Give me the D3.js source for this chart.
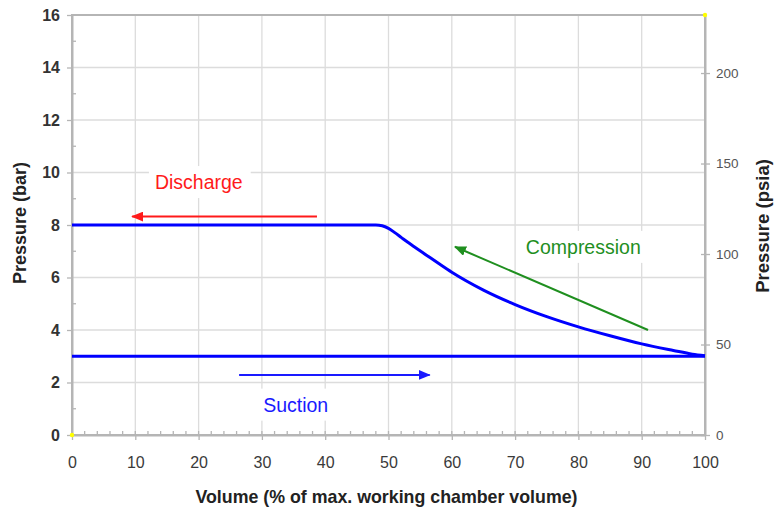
<!DOCTYPE html>
<html>
<head>
<meta charset="utf-8">
<script src="https://cdn.jsdelivr.net/npm/d3@7"></script>
<style>
  html, body { margin: 0; padding: 0; background: #fff; }
  svg { display: block; font-family: "Liberation Sans", Arial, Helvetica, sans-serif; }
</style>
</head>
<body>
<svg id="chart" width="774" height="508"></svg>
<script>
// p-V diagram of a compressor working chamber: suction, compression, discharge

// axis ticks
const volumeTicks = [0, 10, 20, 30, 40, 50, 60, 70, 80, 90, 100];
const volumeMinorTicks = d3.range(0, 101, 2);
const barTicks = [0, 2, 4, 6, 8, 10, 12, 14, 16];
const barMinorTicks = [1, 3, 5, 7, 9, 11, 13, 15];
const psiaTicks = [0, 50, 100, 150, 200];
const barToPsia = 14.5038;

// discharge plateau + compression curve (volume %, pressure bar)
const cycleVolume   = [0, 10, 20, 30, 40, 46, 48, 49, 50, 51, 52, 53, 54, 56, 58, 60, 65, 70, 75, 80, 85, 90, 95, 98, 100];
const cyclePressure = [8, 8, 8, 8, 8, 8, 8, 7.97, 7.87, 7.71, 7.53, 7.35, 7.18, 6.85, 6.52, 6.2, 5.52, 4.97, 4.51, 4.12, 3.78, 3.47, 3.22, 3.08, 3.02];

// suction line
const suctionVolume   = [0, 100];
const suctionPressure = [3.0, 3.0];

// corner markers of the plotted range
const cornerVolume   = [0, 100];
const cornerPressure = [0, 16];

// phase annotations: arrow from/to and label anchor, in volume % / bar
const phaseNames     = ["Discharge", "Compression", "Suction"];
const phaseColors    = ["#ff1a1a", "#1f8f1f", "#1a1aff"];
const arrowFromVol   = [38.7, 91.0, 26.4];
const arrowFromBar   = [8.32, 4.0, 2.29];
const arrowToVol     = [9.5, 60.5, 56.5];
const arrowToBar     = [8.32, 7.17, 2.29];
const labelVol       = [13.1, 71.7, 30.2];
const labelBar       = [9.37, 6.9, 0.89];

const svg = d3.select("#chart");
const W = 774, H = 508;
const margin = { top: 15, right: 69, bottom: 73, left: 72 };
const x0 = margin.left, x1 = W - margin.right, y0 = H - margin.bottom, y1 = margin.top;

const x = d3.scaleLinear().domain([0, 100]).range([x0, x1]);
const y = d3.scaleLinear().domain([0, 16]).range([y0, y1]);
const y2 = d3.scaleLinear().domain([0, 16 * barToPsia]).range([y0, y1]);

const gridColor = "#dcdcdc";
const axisColor = "#b5b5b5";

// grid
const grid = svg.append("g");
grid.selectAll("line.h").data(barTicks).join("line")
  .attr("x1", x0).attr("x2", x1)
  .attr("y1", d => y(d)).attr("y2", d => y(d))
  .attr("stroke", gridColor).attr("stroke-width", 1.3);
grid.selectAll("line.v").data(volumeTicks).join("line")
  .attr("y1", y0).attr("y2", y1)
  .attr("x1", d => x(d)).attr("x2", d => x(d))
  .attr("stroke", gridColor).attr("stroke-width", 1.3);

// phase labels with white backing boxes (drawn over the grid)
const labels = svg.append("g");
phaseNames.forEach((name, i) => {
  const g = labels.append("g");
  const t = g.append("text")
    .attr("x", x(labelVol[i])).attr("y", y(labelBar[i]))
    .attr("font-size", 19.5)
    .attr("fill", phaseColors[i])
    .text(name);
  const bb = t.node().getBBox();
  g.insert("rect", "text")
    .attr("x", bb.x - 6).attr("y", bb.y - 5)
    .attr("width", bb.width + 14).attr("height", bb.height + 10)
    .attr("fill", "#fff");
});

// frame
svg.append("rect")
  .attr("x", x0).attr("y", y1)
  .attr("width", x1 - x0).attr("height", y0 - y1)
  .attr("fill", "none").attr("stroke", axisColor).attr("stroke-width", 2);

// left axis (bar)
const axL = svg.append("g").attr("transform", `translate(${x0},0)`)
  .call(d3.axisLeft(y).tickValues(barTicks).tickSize(5).tickSizeOuter(0).tickPadding(7).tickFormat(d3.format("d")));
axL.select(".domain").attr("stroke", axisColor).attr("stroke-width", 2);
axL.selectAll(".tick line").attr("stroke", axisColor).attr("stroke-width", 1.3);
axL.selectAll(".tick text")
  .attr("font-family", "Liberation Sans, Arial, sans-serif")
  .attr("font-size", 16).attr("font-weight", "bold").attr("fill", "#333");
svg.append("g").selectAll("line").data(barMinorTicks).join("line")
  .attr("x1", x0).attr("x2", x0 + 4)
  .attr("y1", d => y(d)).attr("y2", d => y(d))
  .attr("stroke", axisColor).attr("stroke-width", 1.3);

// bottom axis (volume)
const axB = svg.append("g").attr("transform", `translate(0,${y0})`)
  .call(d3.axisBottom(x).tickValues(volumeTicks).tickSize(5).tickSizeOuter(0).tickPadding(17).tickFormat(d3.format("d")));
axB.select(".domain").attr("stroke", axisColor).attr("stroke-width", 2);
axB.selectAll(".tick line").attr("stroke", axisColor).attr("stroke-width", 1.3);
axB.selectAll(".tick text")
  .attr("font-family", "Liberation Sans, Arial, sans-serif")
  .attr("font-size", 16).attr("fill", "#3a3a3a");
svg.append("g").selectAll("line").data(volumeMinorTicks).join("line")
  .attr("x1", d => x(d)).attr("x2", d => x(d))
  .attr("y1", y0).attr("y2", y0 - 4)
  .attr("stroke", axisColor).attr("stroke-width", 1.3);

// right axis (psia)
const axR = svg.append("g").attr("transform", `translate(${x1},0)`)
  .call(d3.axisRight(y2).tickValues(psiaTicks).tickSize(5).tickSizeOuter(0).tickPadding(6).tickFormat(d3.format("d")));
axR.select(".domain").attr("stroke", axisColor).attr("stroke-width", 2);
axR.selectAll(".tick line").attr("x1", -4).attr("stroke", axisColor).attr("stroke-width", 1.3);
axR.selectAll(".tick text")
  .attr("font-family", "Liberation Sans, Arial, sans-serif")
  .attr("font-size", 13.5).attr("fill", "#555");

// axis titles
svg.append("text")
  .attr("transform", `translate(26,223) rotate(-90)`)
  .attr("text-anchor", "middle").attr("font-size", 18).attr("font-weight", "bold").attr("fill", "#222")
  .text("Pressure (bar)");
svg.append("text")
  .attr("transform", `translate(769,226) rotate(-90)`)
  .attr("text-anchor", "middle").attr("font-size", 18.5).attr("font-weight", "bold").attr("fill", "#222")
  .text("Pressure (psia)");
svg.append("text")
  .attr("x", (x0 + x1) / 2 - 2).attr("y", 503)
  .attr("text-anchor", "middle").attr("font-size", 17.8).attr("font-weight", "bold").attr("fill", "#222")
  .text("Volume (% of max. working chamber volume)");

// cycle lines
const line = d3.line().x(d => x(d[0])).y(d => y(d[1]));
svg.append("path")
  .datum(suctionVolume.map((v, i) => [v, suctionPressure[i]]))
  .attr("d", line)
  .attr("fill", "none").attr("stroke", "#0000ff").attr("stroke-width", 3);
svg.append("path")
  .datum(cycleVolume.map((v, i) => [v, cyclePressure[i]]))
  .attr("d", line.curve(d3.curveMonotoneX))
  .attr("fill", "none").attr("stroke", "#0000ff").attr("stroke-width", 3)
  .attr("stroke-linejoin", "round");

// arrows
const defs = svg.append("defs");
phaseColors.forEach((c, i) => {
  defs.append("marker")
    .attr("id", "head" + i)
    .attr("viewBox", "0 0 12 10")
    .attr("refX", 11).attr("refY", 5)
    .attr("markerWidth", 12).attr("markerHeight", 10)
    .attr("markerUnits", "userSpaceOnUse")
    .attr("orient", "auto")
    .append("path").attr("d", "M0,0 L12,5 L0,10 Z").attr("fill", c);
});
phaseNames.forEach((name, i) => {
  svg.append("line")
    .attr("x1", x(arrowFromVol[i])).attr("y1", y(arrowFromBar[i]))
    .attr("x2", x(arrowToVol[i])).attr("y2", y(arrowToBar[i]))
    .attr("stroke", phaseColors[i]).attr("stroke-width", 2)
    .attr("marker-end", `url(#head${i})`);
});

// corner markers
svg.append("g").selectAll("circle").data(cornerVolume).join("circle")
  .attr("cx", (d) => x(d)).attr("cy", (d, i) => y(cornerPressure[i]))
  .attr("r", 2.2).attr("fill", "#ffff00");
</script>
</body>
</html>
